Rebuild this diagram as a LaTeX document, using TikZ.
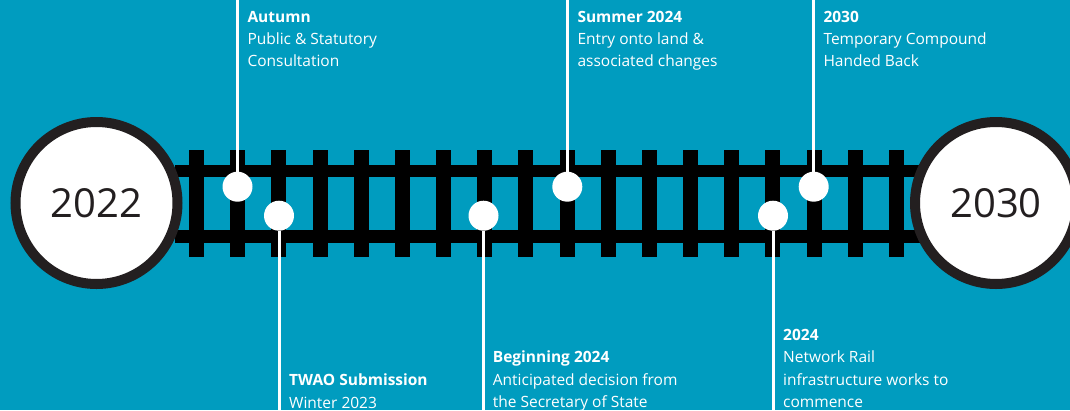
\documentclass[tikz,border=0pt]{standalone}
\usepackage{fontspec}
\setmainfont{Open Sans}
\definecolor{bg}{RGB}{0,156,191}
\definecolor{ring}{RGB}{35,31,32}
\begin{document}
\begin{tikzpicture}[x=1pt,y=-1pt,
  railbar/.style={fill=black},
  tiebar/.style={fill=black},
  yearcircle/.style={circle, draw=ring, line width=10pt, fill=white, minimum size=162pt, inner sep=0pt, font=\fontsize{40}{40}\selectfont, text=ring},
  dot/.style={circle, fill=white, minimum size=30pt, inner sep=0pt},
  stem/.style={draw=white, line width=3pt},
  lbl/.style={anchor=base west, align=left, inner sep=0pt, text=white, font=\fontsize{15.5}{22.3}\selectfont}
]
\useasboundingbox (0,0) rectangle (1070,410);
\clip (0,0) rectangle (1070,410);
\fill[bg] (0,0) rectangle (1070,410);
% rails
\fill[railbar] (175,165) rectangle (925,177);
\fill[railbar] (175,230) rectangle (925,243);
% ties
\foreach \k in {0,...,17}{
  \fill[tiebar] ({196.5+41.176*\k-7.5},150) rectangle ++(15,107);
}
% year circles
\node[yearcircle] (c2022) at (96.5,203) {2022};
\node[yearcircle] (c2030) at (996,203) {2030};
% stem ends
\coordinate (e1) at (237.5,0);
\coordinate (e2) at (279,410);
\coordinate (e3) at (483.5,410);
\coordinate (e4) at (567.3,0);
\coordinate (e5) at (773,410);
\coordinate (e6) at (813.7,0);
% dots
\node[dot] (d1) at (237.5,186.7) {};
\node[dot] (d2) at (279,215.7) {};
\node[dot] (d3) at (483.5,215.7) {};
\node[dot] (d4) at (567.3,186.7) {};
\node[dot] (d5) at (773,215.7) {};
\node[dot] (d6) at (813.7,186.7) {};
% stems
\draw[stem] (e1) -- (d1);
\draw[stem] (e2) -- (d2);
\draw[stem] (e3) -- (d3);
\draw[stem] (e4) -- (d4);
\draw[stem] (e5) -- (d5);
\draw[stem] (e6) -- (d6);
% labels (anchored at the baseline of the last line)
\node[lbl] (l1) at (247.3,66.6) {\textbf{Autumn}\\Public \& Statutory\\Consultation};
\node[lbl] (l2) at (577.3,66.6) {\textbf{Summer 2024}\\Entry onto land \&\\associated changes};
\node[lbl] (l3) at (823.3,66.6) {\textbf{2030}\\Temporary Compound\\Handed Back};
\node[lbl] (l4) at (289,408) {\textbf{TWAO Submission}\\Winter 2023};
\node[lbl] (l5) at (492.7,407.5) {\textbf{Beginning 2024}\\Anticipated decision from\\the Secretary of State};
\node[lbl] (l6) at (783,407.5) {\textbf{2024}\\Network Rail\\infrastructure works to\\commence};
\end{tikzpicture}
\end{document}
